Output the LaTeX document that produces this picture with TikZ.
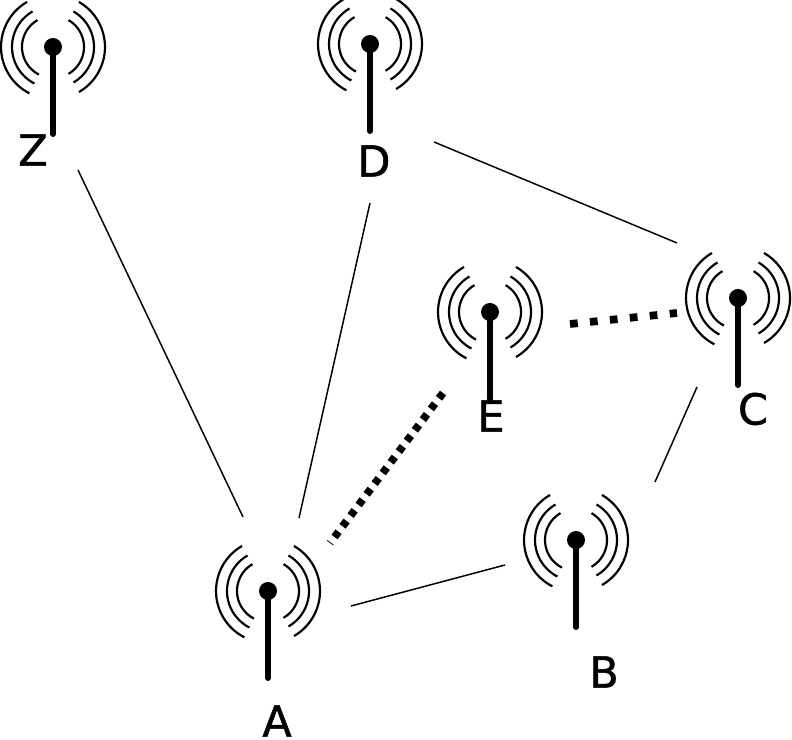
\documentclass[tikz,border=0pt]{standalone}
\usepackage{fontspec}
\newfontfamily\aplabelfont[FakeBold=1.2]{DejaVu Sans}
\tikzset{
  mast/.style={line width=1.7pt, line cap=round},
  wave/.style={line width=0.62pt},
  aphead/.style={circle, fill=black, inner sep=0pt, minimum size=0.18cm},
  aplabel/.style={font=\aplabelfont\fontsize{12.2}{14}\selectfont, inner sep=0pt},
  goodlink/.style={line width=0.42pt},
  weak/.style={line width=2.2pt, dash pattern=on 1.9pt off 1.9pt},
  weaker/.style={line width=2.2pt, dash pattern=on 2.2pt off 3.5pt}
}
\begin{document}
\begin{tikzpicture}
  \useasboundingbox (0,0) rectangle (7.92,7.40);
  % les antennes
  \foreach \id/\x/\y in {A/2.68/1.49, B/5.76/2.00, C/7.38/4.42, D/3.70/6.96, E/4.90/4.28, Z/0.53/6.93} {
    \node[aphead] (\id) at (\x,\y) {};
    \draw[mast] (\id.center) -- ++(0,-0.87);
    \foreach \r in {0.31,0.41,0.52} {
      \draw[wave] (\id.center) ++(120:\r) arc (120:243:\r);
      \draw[wave] (\id.center) ++(60:\r) arc (60:-60:\r);
    }
  }
  % les noms
  \node[aplabel] (labelA) at (2.77,0.19) {A};
  \node[aplabel] (labelB) at (6.04,0.68) {B};
  \node[aplabel] (labelC) at (7.53,3.31) {C};
  \node[aplabel] (labelD) at (3.74,5.79) {D};
  \node[aplabel] (labelE) at (4.91,3.24) {E};
  \node[aplabel] (labelZ) at (0.33,5.90) {Z};
  % les liens
  \draw[goodlink] ([shift={(0.25,-1.23)}]Z.center) -- ([shift={(-0.25,0.74)}]A.center);
  \draw[goodlink] ([shift={(0,-1.59)}]D.center) -- ([shift={(0.31,0.73)}]A.center);
  \draw[goodlink] ([shift={(0.64,-0.98)}]D.center) -- ([shift={(-0.61,0.55)}]C.center);
  \draw[goodlink] ([shift={(-0.41,-0.89)}]C.center) -- ([shift={(0.79,0.58)}]B.center);
  \draw[goodlink] ([shift={(0.83,-0.15)}]A.center) -- ([shift={(-0.71,-0.25)}]B.center);
  % les liens faibles
  \draw[weak] ([shift={(-0.47,-0.81)}]E.center) -- ([shift={(0.62,0.48)}]A.center);
  \draw[weaker] ([shift={(0.80,-0.12)}]E.center) -- ([shift={(-0.61,-0.15)}]C.center);
\end{tikzpicture}
\end{document}
